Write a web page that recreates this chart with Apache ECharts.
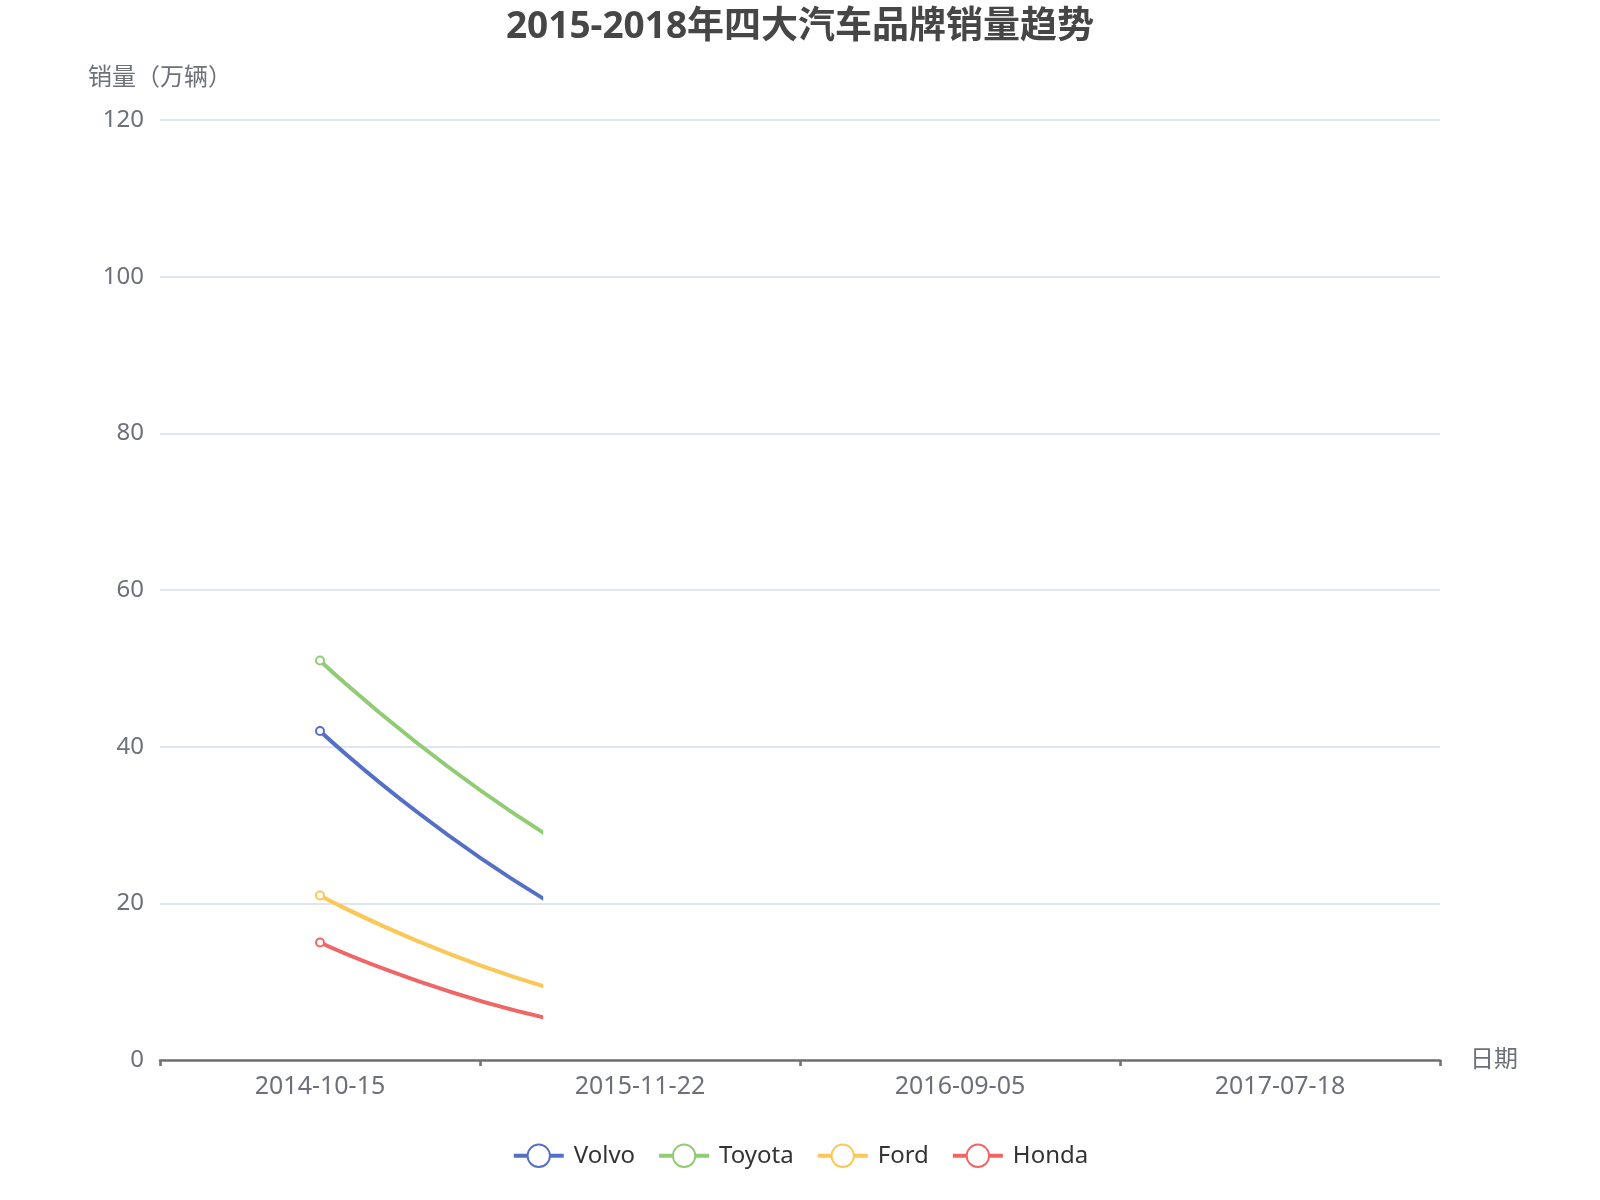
<!DOCTYPE html>
<html>
<head>
  <meta charset="utf-8">
  <script src="https://cdn.jsdelivr.net/npm/echarts@6/dist/echarts.min.js"></script>
  <style>
    html, body { margin: 0; padding: 0; background: #fff; }
  </style>
</head>
<body>
  <div id="main" style="width: 1600px; height: 1200px"></div>
  <script type="text/javascript">
    // categories on the x axis
    var dates = ['2014-10-15', '2015-11-22', '2016-09-05', '2017-07-18'];
    // sales, 10k units
    var volvo = [42, 14, 4, 60];
    var toyota = [51, 22, 10, 110];
    var ford = [21, 6.5, 3, 35];
    var honda = [15, 3.3, 1, 25];
    var yTicks = [0, 20, 40, 60, 80, 100, 120];

    var font = '"Noto Sans", "Noto Sans CJK SC", sans-serif';
    var myChart = echarts.init(document.getElementById('main'));

    // the reference is a frame of the draw-in animation, 30% of the way across
    function lineSeries(name, color, values) {
      return {
        name: name,
        type: 'line',
        smooth: true,
        symbol: 'emptyCircle',
        symbolSize: 8,
        data: values,
        color: color,
        lineStyle: { width: 4, color: color },
        itemStyle: { color: color, borderWidth: 3 },
        animationDuration: 1e9,
        animationEasing: function (k) { return 0.3; },
        animationDelay: function (idx) { return idx > 0 ? 1e10 : 0; }
      };
    }

    myChart.setOption({
      textStyle: { fontFamily: font },
      title: {
        text: '2015-2018年四大汽车品牌销量趋势',
        left: 'center',
        top: 4,
        textStyle: { fontSize: 37, fontWeight: 'bold', color: '#464646', fontFamily: font }
      },
      legend: {
        bottom: 27,
        itemWidth: 50,
        itemHeight: 28,
        itemGap: 22,
        lineStyle: { width: 4 },
        itemStyle: { borderWidth: 3.5 },
        textStyle: { fontSize: 24, color: '#333', fontFamily: font, padding: [0, 0, 0, 5] },
        data: ['Volvo', 'Toyota', 'Ford', 'Honda']
      },
      grid: { left: 160, right: 160, top: 120, bottom: 140 },
      xAxis: {
        type: 'category',
        data: dates,
        name: '日期',
        nameGap: 30,
        nameTextStyle: { fontSize: 24, color: '#6E7079', fontFamily: font },
        axisLine: { lineStyle: { color: '#6E7079', width: 2.5 } },
        axisTick: { show: true, length: 6, lineStyle: { color: '#6E7079', width: 2.5 } },
        axisLabel: { fontSize: 25, color: '#6E7079', margin: 14, fontFamily: font }
      },
      yAxis: {
        type: 'value',
        min: yTicks[0],
        max: yTicks[yTicks.length - 1],
        interval: yTicks[1] - yTicks[0],
        name: '销量（万辆）',
        nameGap: 30,
        nameTextStyle: { fontSize: 24, color: '#6E7079', fontFamily: font },
        axisLabel: { fontSize: 24, color: '#6E7079', margin: 16, fontFamily: font },
        splitLine: { lineStyle: { color: '#E0E6F1', width: 2 } }
      },
      series: [
        lineSeries('Volvo', '#5470c6', volvo),
        lineSeries('Toyota', '#91cc75', toyota),
        lineSeries('Ford', '#fac858', ford),
        lineSeries('Honda', '#ee6666', honda)
      ]
    });
  </script>
</body>
</html>
